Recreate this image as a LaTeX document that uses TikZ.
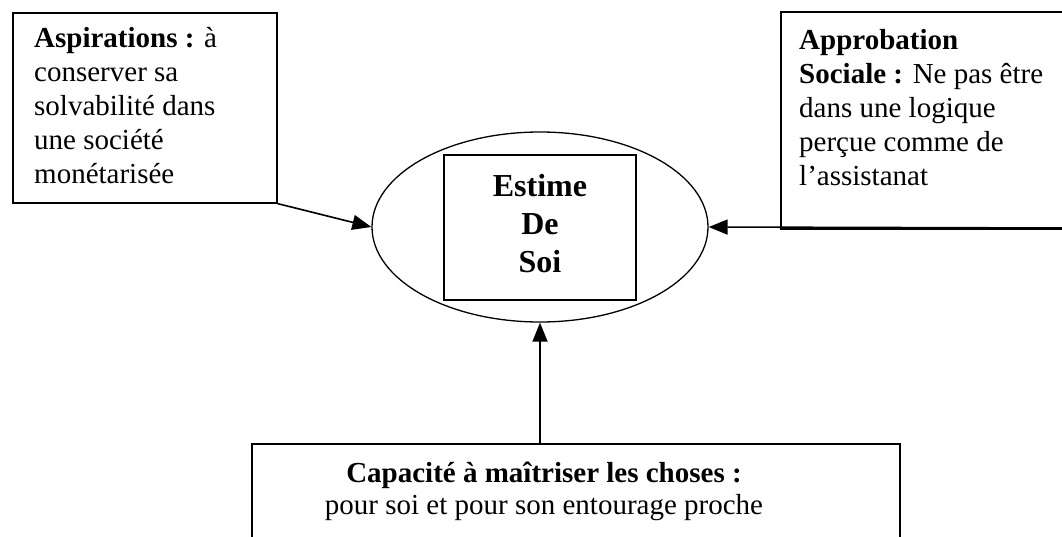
\documentclass[tikz,border=0pt]{standalone}
\usepackage{fontspec}
\setmainfont{Liberation Serif}
\usetikzlibrary{arrows.meta,shapes.geometric}
\tikzset{
  box/.style={draw, line width=1.6pt, inner sep=0pt, anchor=north west},
  txt/.style={inner sep=0pt, font=\fontsize{29}{34}\selectfont},
  arr/.style={line width=1.6pt, -{Triangle[length=19pt,width=15pt]}},
}
\begin{document}
\begin{tikzpicture}[x=1pt,y=-1pt]
\clip (0,0) rectangle (1062,536);
\fill[white] (0,0) rectangle (1062,536);
% boxes
\node[box, minimum width=264pt, minimum height=190pt] (asp) at (12,12) {};
\node[box, minimum width=320pt, minimum height=217pt] (app) at (780,11) {};
\node[box, minimum width=648pt, minimum height=140pt] (cap) at (251,443) {};
% central ellipse and box
\node[draw, ellipse, line width=1.3pt, minimum width=336pt, minimum height=190pt, inner sep=0pt] (ell) at (540,227) {};
\node[draw, line width=1.6pt, minimum width=192pt, minimum height=145pt, inner sep=0pt] (est) at (540,227.5) {};
% texts (anchor base = baseline of last line)
\node[txt, anchor=base west, align=left] (asptext) at (34,183)
  {\textbf{Aspirations :} à\\conserver sa\\solvabilité dans\\une société\\monétarisée};
\node[txt, anchor=base west, align=left] (apptext) at (799,185)
  {\textbf{Approbation}\\\textbf{Sociale :} Ne pas être\\dans une logique\\perçue comme de\\l’assistanat};
\node[inner sep=0pt, anchor=base, align=center, font=\fontsize{32}{38}\selectfont\bfseries] (esttext) at (540,272)
  {Estime\\De\\Soi};
\node[inner sep=0pt, anchor=base, align=center, font=\fontsize{29}{32}\selectfont] (captext) at (544,514)
  {\textbf{Capacité à maîtriser les choses :}\\pour soi et pour son entourage proche};
% connectors
\coordinate (rstart) at (1062,228);
\draw[arr] (asp.south east) -- (ell.west);
\draw[arr] (rstart) -- (ell.east);
\draw[arr] (ell.south |- cap.north) -- (ell.south);
\end{tikzpicture}
\end{document}
